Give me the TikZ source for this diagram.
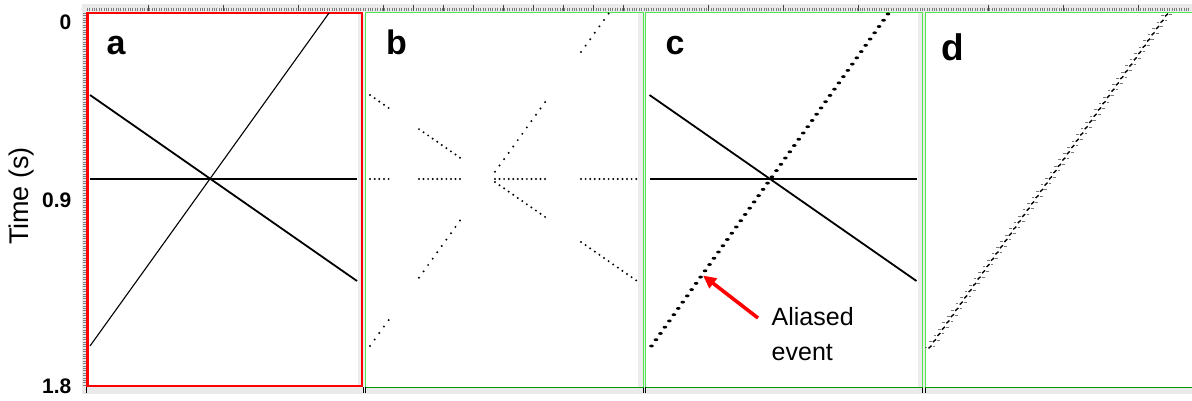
\documentclass[tikz,border=0pt]{standalone}
\usepackage{fontspec}
\setmainfont{Liberation Sans}
\usetikzlibrary{arrows.meta}
\definecolor{rulergray}{RGB}{234,234,234}
\definecolor{tickgray}{RGB}{125,125,125}
\definecolor{majortick}{RGB}{70,70,70}
\definecolor{framegreen}{RGB}{80,232,80}
\definecolor{darkgreen}{RGB}{0,150,0}
\definecolor{edgegray}{RGB}{236,236,236}
\definecolor{wiggle}{RGB}{120,120,120}
\newcommand{\bsegdots}[3]{%
  \foreach \k in {0,...,#2} {%
    \pgfmathsetmacro\xx{#1+#3*\k}%
    \fill[black] (\xx,179) circle[radius=1.1];%
    \pgfmathsetmacro\yd{95+0.6966*(\xx-370)}%
    \fill[black] (\xx,\yd) circle[radius=1.1];%
    \pgfmathsetmacro\ys{346-1.3933*(\xx-370)}%
    \ifdim\ys pt>12pt \fill[black] (\xx,\ys) circle[radius=1.1];\fi
  }}
\begin{document}
\begin{tikzpicture}[x=1pt,y=-1pt,
  panellabel/.style={font=\bfseries\fontsize{34}{40}\selectfont, inner sep=0, anchor=base},
  axislabel/.style={font=\bfseries\fontsize{21}{24}\selectfont, inner sep=0, anchor=east},
  eventline/.style={line width=1.8pt, black},
  steepline/.style={line width=1.1pt, black},
  greenframe/.style={draw=framegreen, line width=1pt},
  bottomedge/.style={draw=darkgreen, line width=1.4pt},
  minortick/.style={draw=tickgray, line width=0.55pt},
  majorticks/.style={draw=majortick, line width=0.7pt},
  aliasarrow/.style={draw=red, line width=3.6pt, -{Triangle[length=13pt,width=12pt]}},
  notetext/.style={font=\fontsize{25}{35}\selectfont, inner sep=0, align=left, anchor=north west}
]
\useasboundingbox (0,0) rectangle (1192,401);
\fill[white] (0,0) rectangle (1192,401);

% ---- rulers ----
\fill[rulergray] (82,4) rectangle (1192,12);
\fill[rulergray] (81.5,4) rectangle (86,394);
\fill[rulergray] (82,387) rectangle (1192,394);
\foreach \x in {87,89.4,...,1190} \draw[minortick] (\x,8) -- (\x,11.5);
\foreach \x in {148,223,298} \draw[majorticks] (\x,5) -- (\x,11.5);
\foreach \x in {383,413,...,623} \draw[majorticks] (\x,5) -- (\x,11.5);
\foreach \x in {708,783,858} \draw[majorticks] (\x,5) -- (\x,11.5);
\foreach \x in {988,1063,1138} \draw[majorticks] (\x,5) -- (\x,11.5);
\foreach \y in {13,15.4,...,386} \draw[minortick] (82.5,\y) -- (85.5,\y);
\foreach \x in {86.5,363,365.5,643,645.5,922.5,925} \draw[black, line width=0.8pt] (\x,387) -- (\x,393);

% ---- gaps / inner edge strips ----
\fill[edgegray] (357.5,14) rectangle (366,386);
\fill[edgegray] (638,12.5) rectangle (646,387);
\fill[edgegray] (918,12.5) rectangle (925,387);

% ---- panel frames ----
\draw[red, line width=2.2pt] (87.5,13.2) rectangle (362,386.3);
\draw[greenframe] (365.8,387) -- (365.8,12.5) -- (643.5,12.5) -- (643.5,387);
\draw[bottomedge] (365.8,387.2) -- (643.5,387.2);
\draw[greenframe] (645.8,387) -- (645.8,12.5) -- (922.8,12.5) -- (922.8,387);
\draw[bottomedge] (645.8,387.2) -- (922.8,387.2);
\draw[greenframe] (925,387) -- (925,12.5) -- (1192,12.5);
\draw[bottomedge] (925,387.2) -- (1192,387.2);

% ---- panel a ----
\draw[eventline] (90,95) -- (357,281);
\draw[eventline] (90,179) -- (357,179);
\draw[steepline] (90,346) -- (329,13);

% ---- panel b (decimated) ----
\bsegdots{370}{4}{4.65}
\bsegdots{419}{9}{4.56}
\bsegdots{495}{11}{4.55}
\bsegdots{581}{12}{4.6}

% ---- panel c ----
\draw[eventline] (649.5,95) -- (916.5,281);
\draw[eventline] (649.5,179) -- (916.5,179);
\foreach \k in {0,...,53} {
  \pgfmathsetmacro\xx{888-4.462*\k}
  \pgfmathsetmacro\yy{14+6.264*\k}
  \fill[black] (\xx,\yy) ellipse[x radius=2.3, y radius=1.45];
}

% ---- panel d ----
\foreach \k in {0,...,53} {
  \pgfmathsetmacro\xx{1166.5-4.462*\k}
  \pgfmathsetmacro\yy{15+6.264*\k}
  \draw[black, line width=1.4pt] (\xx-1.5,\yy+1.4) -- (\xx+1.5,\yy-1.4);
  \draw[wiggle, line width=0.8pt] (\xx-5.4,\yy+0.7) -- (\xx-2.8,\yy+0.7);
  \draw[wiggle, line width=0.8pt] (\xx+2.8,\yy-0.7) -- (\xx+5.4,\yy-0.7);
}

% ---- labels ----
\node[panellabel] (la) at (116,55) {a};
\node[panellabel] (lb) at (396.5,55) {b};
\node[panellabel] (lc) at (675,55) {c};
\node[panellabel, font=\bfseries\fontsize{37}{42}\selectfont] (ld) at (953,60.5) {d};

\node[axislabel] (t0) at (71.5,22.5) {0};
\node[axislabel] (t09) at (71.5,200) {0.9};
\node[axislabel] (t18) at (71.5,386.5) {1.8};
\node[font=\fontsize{27}{30}\selectfont, inner sep=0, rotate=90, anchor=base] (ylab) at (28.3,196) {Time (s)};

% ---- annotation ----
\node[notetext] (note) at (771.5,307) {Aliased\\event};
\coordinate (arrowtail) at (758,318);
\coordinate (arrowtip) at (703,275.5);
\draw[aliasarrow] (arrowtail) -- (arrowtip);
\end{tikzpicture}
\end{document}
